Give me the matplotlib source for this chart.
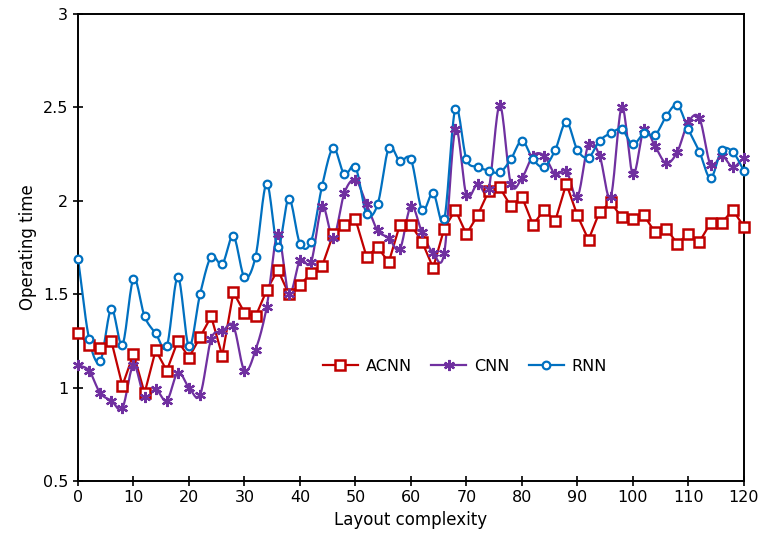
import numpy as np
import matplotlib
matplotlib.use("Agg")
import matplotlib.pyplot as plt
from matplotlib.lines import Line2D

x_values = list(range(0, 121, 2))

acnn = [1.29, 1.23, 1.21, 1.25, 1.01, 1.18, 0.97, 1.20, 1.09, 1.25, 1.16, 1.27,
        1.38, 1.17, 1.51, 1.40, 1.38, 1.52, 1.63, 1.50, 1.55, 1.61, 1.65, 1.82,
        1.87, 1.90, 1.70, 1.75, 1.67, 1.87, 1.87, 1.78, 1.64, 1.85, 1.95, 1.82,
        1.92, 2.05, 2.07, 1.97, 2.02, 1.87, 1.95, 1.89, 2.09, 1.92, 1.79, 1.94,
        1.99, 1.91, 1.90, 1.92, 1.83, 1.85, 1.77, 1.82, 1.78, 1.88, 1.88, 1.95,
        1.86]

cnn = [1.12, 1.09, 0.97, 0.93, 0.89, 1.12, 0.95, 0.99, 0.93, 1.08, 1.00, 0.96,
       1.26, 1.30, 1.33, 1.09, 1.20, 1.43, 1.82, 1.50, 1.68, 1.67, 1.97, 1.80,
       2.04, 2.11, 1.98, 1.84, 1.80, 1.74, 1.97, 1.83, 1.72, 1.72, 2.38, 2.03,
       2.09, 2.06, 2.51, 2.09, 2.12, 2.24, 2.24, 2.14, 2.16, 2.02, 2.30, 2.24,
       2.02, 2.50, 2.14, 2.38, 2.29, 2.20, 2.26, 2.42, 2.44, 2.19, 2.24, 2.18,
       2.23]

rnn = [1.69, 1.26, 1.14, 1.42, 1.23, 1.58, 1.38, 1.29, 1.22, 1.59, 1.22, 1.50,
       1.70, 1.66, 1.81, 1.59, 1.70, 2.09, 1.75, 2.01, 1.77, 1.78, 2.08, 2.28,
       2.14, 2.18, 1.93, 1.98, 2.28, 2.21, 2.22, 1.95, 2.04, 1.90, 2.49, 2.22,
       2.18, 2.16, 2.15, 2.22, 2.32, 2.22, 2.18, 2.27, 2.42, 2.27, 2.23, 2.32,
       2.36, 2.38, 2.30, 2.36, 2.35, 2.45, 2.51, 2.38, 2.26, 2.12, 2.27, 2.26,
       2.16]

series_names = ["ACNN", "CNN", "RNN"]
x_ticks = list(range(0, 121, 10))
y_ticks = [0.5, 1, 1.5, 2, 2.5, 3]


def smooth(xs, ys, n=16):
    """Catmull-Rom style smoothing (like a spreadsheet's smoothed line)."""
    xs = np.asarray(xs, float)
    ys = np.asarray(ys, float)
    px = np.concatenate([[2 * xs[0] - xs[1]], xs, [2 * xs[-1] - xs[-2]]])
    py = np.concatenate([[2 * ys[0] - ys[1]], ys, [2 * ys[-1] - ys[-2]]])
    ox, oy = [], []
    t = np.linspace(0, 1, n, endpoint=False)
    for i in range(1, len(px) - 2):
        p0x, p1x, p2x, p3x = px[i - 1:i + 3]
        p0y, p1y, p2y, p3y = py[i - 1:i + 3]
        c1x, c1y = p1x + (p2x - p0x) / 6, p1y + (p2y - p0y) / 6
        c2x, c2y = p2x - (p3x - p1x) / 6, p2y - (p3y - p1y) / 6
        bx = (1 - t) ** 3 * p1x + 3 * (1 - t) ** 2 * t * c1x + 3 * (1 - t) * t ** 2 * c2x + t ** 3 * p2x
        by = (1 - t) ** 3 * p1y + 3 * (1 - t) ** 2 * t * c1y + 3 * (1 - t) * t ** 2 * c2y + t ** 3 * p2y
        ox.extend(bx)
        oy.extend(by)
    ox.append(xs[-1])
    oy.append(ys[-1])
    return np.array(ox), np.array(oy)


plt.rcParams['font.family'] = ['DejaVu Sans']
fig = plt.figure(figsize=(7.61, 5.42), dpi=100)
ax = fig.add_axes([0.1025, 0.1125, 0.875, 0.8625])

styles = [
    dict(color="#C00000", marker="s", ms=7.5, mew=1.8, smooth=False),
    dict(color="#7030A0", marker=(6, 2, 0), ms=8, mew=1.6, smooth=True),
    dict(color="#0070C0", marker="o", ms=5.5, mew=1.6, smooth=True),
]
data = [acnn, cnn, rnn]
handles = []
for name, ys, st in zip(series_names, data, styles):
    if st["smooth"]:
        sx, sy = smooth(x_values, ys)
    else:
        sx, sy = x_values, ys
    ax.plot(sx, sy, color=st["color"], lw=1.6, zorder=2)
    if st["marker"] == (6, 2, 0):
        ax.plot(x_values, ys, ls="none", marker=st["marker"], ms=st["ms"],
                mec=st["color"], mew=st["mew"], zorder=3, clip_on=False)
        h = Line2D([], [], color=st["color"], lw=1.6, marker=st["marker"],
                   ms=st["ms"], mec=st["color"], mew=st["mew"])
    else:
        ax.plot(x_values, ys, ls="none", marker=st["marker"], ms=st["ms"],
                mec=st["color"], mfc="white", mew=st["mew"], zorder=3,
                clip_on=False)
        h = Line2D([], [], color=st["color"], lw=1.6, marker=st["marker"],
                   ms=st["ms"], mec=st["color"], mfc="white", mew=st["mew"])
    handles.append(h)

ax.set_xlim(0, 120)
ax.set_ylim(0.5, 3)
ax.set_xticks(x_ticks)
ax.set_yticks(y_ticks)
ax.set_yticklabels([f"{v:g}" for v in y_ticks])
ax.tick_params(axis="both", direction="inout", length=7, width=1.2,
               labelsize=11.5, colors="black")
ax.tick_params(axis="x", pad=3)
for s in ax.spines.values():
    s.set_linewidth(1.4)
ax.set_xlabel("Layout complexity", fontsize=12)
ax.set_ylabel("Operating time", fontsize=12)

ax.legend(handles, series_names, loc="center", bbox_to_anchor=(0.581, 0.246),
          ncol=3, frameon=False, fontsize=11.5, handlelength=2.2,
          columnspacing=1.2, handletextpad=0.5)

fig.savefig("out.png", dpi=100)
